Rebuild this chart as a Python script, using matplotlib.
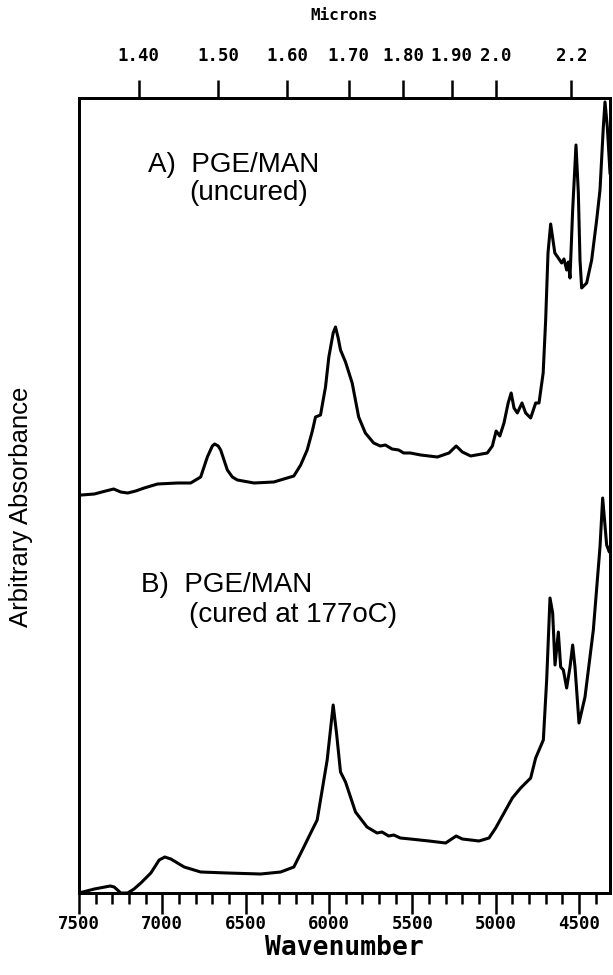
import matplotlib
matplotlib.use('Agg')
import matplotlib.pyplot as plt
from matplotlib.ticker import MultipleLocator

# spectrum A: PGE/MAN uncured (wavenumber, arbitrary absorbance)
wn_a = [7500, 7484, 7408, 7340, 7292, 7250, 7208, 7160, 7109, 7029, 6909, 6830,
        6770, 6730, 6700, 6686, 6665, 6650, 6610, 6580, 6550, 6450, 6331, 6211,
        6170, 6131, 6100, 6081, 6051, 6021, 6001, 5975, 5961, 5945, 5931, 5901,
        5861, 5822, 5782, 5732, 5692, 5662, 5622, 5582, 5552, 5512, 5450, 5350,
        5280, 5237, 5200, 5150, 5050, 5020, 4997, 4975, 4950, 4925, 4907, 4890,
        4870, 4842, 4820, 4790, 4760, 4740, 4715, 4700, 4686, 4670, 4645, 4624,
        4604, 4590, 4574, 4564, 4554, 4538, 4518, 4504, 4494, 4484, 4454, 4424,
        4394, 4374, 4354, 4344, 4330, 4314]
abs_a = [3.98, 3.98, 3.99, 4.02, 4.04, 4.01, 4.00, 4.02, 4.05, 4.09, 4.10, 4.10,
         4.16, 4.36, 4.47, 4.49, 4.47, 4.43, 4.23, 4.16, 4.13, 4.10, 4.11, 4.17,
         4.28, 4.43, 4.62, 4.76, 4.78, 5.06, 5.36, 5.60, 5.66, 5.55, 5.43, 5.31,
         5.10, 4.76, 4.60, 4.50, 4.47, 4.48, 4.44, 4.43, 4.40, 4.40, 4.38, 4.36,
         4.40, 4.47, 4.41, 4.37, 4.40, 4.47, 4.62, 4.57, 4.70, 4.90, 5.00, 4.85,
         4.80, 4.90, 4.80, 4.75, 4.90, 4.90, 5.20, 5.73, 6.40, 6.69, 6.40, 6.35,
         6.30, 6.34, 6.23, 6.31, 6.15, 6.83, 7.48, 7.00, 6.33, 6.05, 6.10, 6.33,
         6.73, 7.03, 7.66, 7.91, 7.66, 7.20]

# spectrum B: PGE/MAN cured at 177 C
wn_b = [7500, 7408, 7313, 7289, 7249, 7208, 7170, 7129, 7069, 7019, 6985, 6949,
        6869, 6770, 6610, 6410, 6290, 6211, 6151, 6101, 6071, 6041, 6011, 5990,
        5975, 5955, 5931, 5901, 5841, 5772, 5712, 5682, 5642, 5612, 5572, 5512,
        5400, 5300, 5237, 5200, 5100, 5040, 5000, 4950, 4900, 4850, 4790, 4760,
        4714, 4694, 4674, 4658, 4644, 4624, 4610, 4594, 4574, 4554, 4538, 4524,
        4500, 4464, 4414, 4374, 4358, 4334, 4318, 4314]
abs_b = [0.00, 0.04, 0.07, 0.06, 0.00, 0.00, 0.04, 0.10, 0.20, 0.33, 0.36, 0.34,
         0.26, 0.21, 0.20, 0.19, 0.21, 0.26, 0.46, 0.63, 0.73, 1.03, 1.33, 1.65,
         1.88, 1.60, 1.21, 1.11, 0.81, 0.66, 0.60, 0.61, 0.57, 0.58, 0.55, 0.54,
         0.52, 0.50, 0.57, 0.54, 0.52, 0.55, 0.65, 0.80, 0.95, 1.05, 1.15, 1.35,
         1.53, 2.13, 2.95, 2.80, 2.28, 2.61, 2.26, 2.23, 2.05, 2.26, 2.48, 2.26,
         1.70, 1.96, 2.63, 3.46, 3.95, 3.48, 3.41, 3.45]

# micron scale on top
micron_ticks = [1.40, 1.50, 1.60, 1.70, 1.80, 1.90, 2.0, 2.2]
micron_labels = ['1.40', '1.50', '1.60', '1.70', '1.80', '1.90', '2.0', '2.2']

plot_font = 'DejaVu Sans Mono'
text_font = ['Liberation Sans', 'DejaVu Sans']

fig = plt.figure(figsize=(6.13, 9.75), dpi=100)
ax = fig.add_axes([0.1289, 0.0841, 0.8662, 0.8154])

ax.plot(wn_a, abs_a, color='black', lw=2.2, solid_joinstyle='round')
ax.plot(wn_b, abs_b, color='black', lw=2.2, solid_joinstyle='round')

ax.set_xlim(7500, 4314)
ax.set_ylim(0, 7.95)
ax.set_yticks([])

for s in ax.spines.values():
    s.set_linewidth(2)

ax.xaxis.set_major_locator(MultipleLocator(500))
ax.xaxis.set_minor_locator(MultipleLocator(100))
ax.tick_params(axis='x', which='major', direction='out', length=15, width=1.8,
               pad=1)
ax.tick_params(axis='x', which='minor', direction='out', length=8, width=1.8)
for lab in ax.get_xticklabels():
    lab.set_family(plot_font)
    lab.set_fontweight('bold')
    lab.set_fontsize(12.5)
ax.set_xlabel('Wavenumber', family=plot_font, fontweight='bold', fontsize=19,
              labelpad=1)
ax.set_ylabel('Arbitrary Absorbance', family=text_font, fontsize=18.5)
ax.yaxis.set_label_coords(-0.086, 0.486)

# top axis in microns
ax2 = ax.twiny()
ax2.set_xlim(ax.get_xlim())
ax2.set_xticks([10000.0 / m for m in micron_ticks])
ax2.set_xticklabels(micron_labels, family=plot_font, fontweight='bold',
                    fontsize=12.5)
ax2.tick_params(axis='x', direction='out', length=13, width=1.8, pad=11)
ax2.set_xlabel('Microns', family=plot_font, fontweight='bold', fontsize=11.5,
               labelpad=19)
for s in ax2.spines.values():
    s.set_linewidth(2)

ax.text(7087, 7.28, 'A)  PGE/MAN', family=text_font, fontsize=20, va='center')
ax.text(6841, 7.00, '(uncured)', family=text_font, fontsize=20, va='center')
ax.text(7129, 3.08, 'B)  PGE/MAN', family=text_font, fontsize=20, va='center')
ax.text(6841, 2.78, '(cured at 177oC)', family=text_font, fontsize=20,
        va='center')

fig.savefig('out.png', dpi=100)
